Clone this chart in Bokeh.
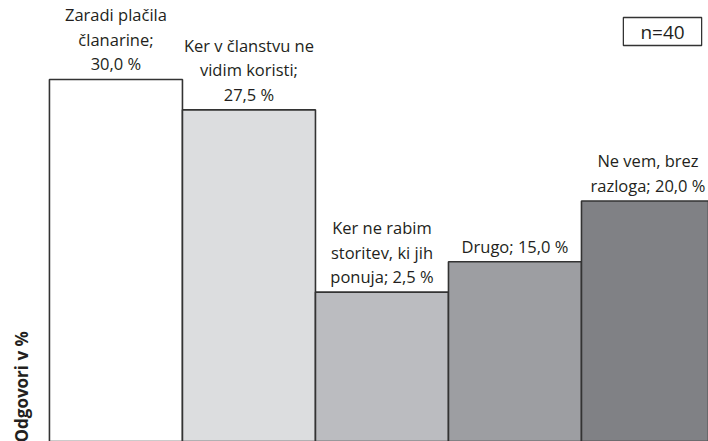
from bokeh.plotting import figure
from bokeh.models import Range1d, Label, ColumnDataSource
from bokeh.core.properties import value
from bokeh.embed import file_html
from bokeh.resources import INLINE
import math

categories = ["Zaradi plačila\nčlanarine;", "Ker v članstvu ne\nvidim koristi;",
              "Ker ne rabim\nstoritev, ki jih\nponuja;", "Drugo;", "Ne vem, brez\nrazloga;"]
values = [30.0, 27.5, 12.5, 15.0, 20.0]
value_labels = ["30,0 %", "27,5 %", "2,5 %", "15,0 %", "20,0 %"]
colors = ["#ffffff", "#dcdddf", "#bbbcc0", "#9d9ea2", "#808185"]

label_texts = []
for c, v in zip(categories, value_labels):
    if c.endswith("\nčlanarine;") or c.endswith("koristi;"):
        label_texts.append(c + "\n" + v)
    else:
        label_texts.append(c + " " + v)

xs = list(range(len(values)))
src = ColumnDataSource(dict(x=xs, top=values, color=colors, label=label_texts))

p = figure(width=708, height=441, output_backend="svg", toolbar_location=None,
           x_range=Range1d(-0.868, 4.455), y_range=Range1d(0.206, 36.50),
           min_border=0)
p.axis.visible = False
p.grid.visible = False
p.outline_line_color = None
p.background_fill_color = "white"
p.border_fill_color = "white"

p.vbar(x="x", top="top", bottom=0, width=1.0, fill_color="color",
       line_color="#333333", line_width=1.6, source=src)

p.text(x="x", y="top", text="label", source=src, text_align="center",
       text_baseline="bottom", y_offset=-4, text_font=value("Open Sans"),
       text_font_size="16.5px", text_color="#231f20", text_line_height=1.07)

p.add_layout(Label(x=21, y=-1, x_units="screen", y_units="screen",
                   text="Odgovori v %", angle=math.pi / 2, text_align="left",
                   text_baseline="alphabetic", text_font="Open Sans",
                   text_font_size="17px", text_font_style="bold",
                   text_color="#231f20"))

p.add_layout(Label(x=662, y=410, x_units="screen", y_units="screen",
                   text="n=40", text_align="center", text_baseline="middle",
                   text_font="Open Sans", text_font_size="19px",
                   text_color="#231f20", border_line_color="#333333",
                   border_line_width=1.3, background_fill_color="white",
                   padding=(17, 1)))

open("out.html", "w").write(file_html(p, INLINE))
